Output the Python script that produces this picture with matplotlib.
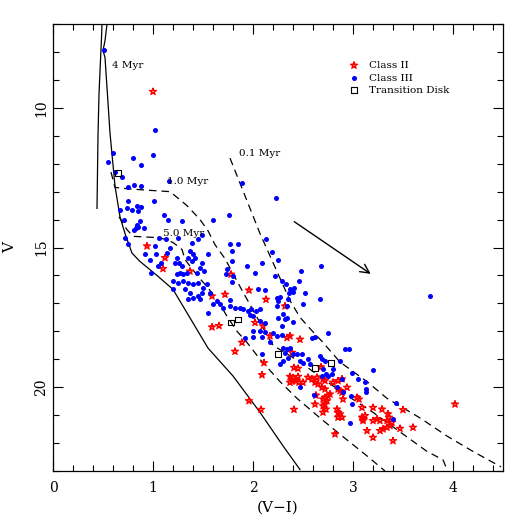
import numpy as np
import matplotlib
matplotlib.use("Agg")
import matplotlib.pyplot as plt
from matplotlib.path import Path
from matplotlib.ticker import MultipleLocator

# ---------------- data ----------------
class3_vi = [0.51,1.02,1.00,0.60,0.55,0.80,0.88,
             0.62,0.69,0.75,0.81,0.88,1.16,1.89,
             0.75,1.01,0.67,0.74,0.79,0.84,0.88,0.85,1.11,1.15,1.29,0.71,0.87,1.60,1.76,2.23,
             0.84,0.83,0.85,0.81,0.91,0.72,1.06,1.49,0.75,1.13,1.25,1.45,1.17,1.02,1.77,1.85,2.13,1.39,
             0.92,1.03,0.97,1.14,1.08,1.05,0.98,
             1.37,1.40,1.35,1.39,1.42,1.55,
             1.24,1.26,1.29,1.22,
             1.49,1.47,1.44,1.51,
             1.27,1.30,1.34,1.24,
             1.20,1.25,1.30,1.35,1.40,1.45,
             1.20,1.32,1.37,1.40,1.45,1.49,1.50,1.54,
             1.35,1.47,
             1.57,1.64,1.67,1.70,1.60,
             1.94,1.79,1.79,1.74,1.73,1.80,2.02,
             1.77,1.82,1.87,1.90,1.95,1.98,2.03,2.07,1.55,
             2.19,2.25,2.09,2.68,2.48,2.46,1.79,2.22,2.29,2.33,2.05,2.12,2.37,2.41,2.40,2.36,2.52,
             2.24,2.27,2.25,2.35,2.67,2.50,1.77,2.24,
             2.00,2.07,2.12,2.34,2.30,2.25,2.32,2.34,2.40,2.29,1.97,
             2.00,2.07,2.12,2.00,2.09,2.20,2.24,2.29,1.92,2.17,2.59,2.62,2.75,
             2.30,2.34,2.37,2.32,2.40,2.35,2.44,2.49,2.09,2.30,2.27,2.47,2.50,2.55,2.57,
             2.67,2.69,2.72,2.92,2.96,2.87,2.70,2.73,2.75,2.80,2.79,2.69,3.20,2.99,3.05,
             3.12,3.13,3.13,2.90,2.84,2.98,2.61,2.47,3.43,3.40,2.97,2.89,2.99,3.77]
class3_v = [7.93,10.78,11.68,11.60,11.93,11.80,12.04,
            12.30,12.48,12.83,12.77,12.80,12.62,12.69,
            13.35,13.32,13.64,13.58,13.64,13.50,13.55,13.70,13.85,14.00,14.05,14.00,14.06,14.02,13.82,13.23,
            14.21,14.30,14.26,14.39,14.31,14.65,14.65,14.54,14.87,14.71,14.65,14.68,15.00,14.95,14.86,14.87,14.71,14.83,
            15.25,15.25,15.43,15.19,15.55,15.67,15.90,
            15.13,15.25,15.37,15.49,15.37,15.25,
            15.37,15.55,15.67,15.55,
            15.55,15.73,15.90,15.85,
            15.90,15.96,15.90,15.96,
            16.20,16.26,16.20,16.26,16.32,16.26,
            16.50,16.50,16.62,16.80,16.74,16.62,16.44,16.32,
            16.86,16.86,
            16.62,16.92,17.04,17.15,17.04,
            15.67,15.13,15.49,15.76,15.96,16.02,15.90,
            17.10,17.15,17.15,17.20,17.27,17.20,17.27,17.20,17.33,
            15.15,15.43,15.57,15.67,15.84,16.20,16.24,16.02,16.20,16.30,16.48,16.53,16.50,16.44,16.60,16.62,16.62,
            16.80,16.78,16.92,16.86,16.86,17.04,16.88,17.10,
            17.45,17.63,17.69,17.10,17.39,17.51,17.57,17.51,17.67,17.81,17.40,
            17.99,17.99,18.02,18.19,18.19,18.05,18.17,18.14,18.23,18.40,18.23,18.19,18.05,
            18.58,18.64,18.58,18.76,18.82,18.94,18.82,18.82,18.82,19.06,19.18,19.06,19.12,19.00,19.18,
            18.88,19.00,19.06,18.64,18.64,19.06,19.36,19.54,19.60,19.36,19.54,19.60,19.38,19.48,19.71,
            19.83,20.07,20.19,20.19,20.01,20.33,20.29,20.01,20.57,21.14,21.29,19.69,20.61,16.74]

class2_vi = [1.00,0.94,1.12,1.10,1.37,1.78,1.96,1.59,1.72,2.13,2.32,1.59,1.66,2.02,2.10,2.17,1.89,1.82,
             2.34,2.37,2.47,2.39,2.11,2.09,1.96,2.08,2.41,
             2.41,2.45,2.37,2.40,2.39,2.43,2.45,2.37,2.46,2.50,2.55,2.59,2.64,2.62,2.65,2.70,2.72,2.69,
             2.72,2.80,2.85,2.89,2.87,2.89,2.94,2.63,2.62,2.72,2.70,2.74,2.75,2.77,2.72,2.70,2.73,2.70,
             2.82,2.84,2.85,2.87,2.89,2.85,3.04,3.06,3.09,3.20,3.29,3.35,3.36,3.34,3.09,3.10,3.10,3.20,
             3.24,3.27,3.39,3.37,3.34,3.30,3.27,3.14,3.20,3.40,3.47,3.50,3.60,4.02,2.90,3.12,2.85,2.68]
class2_v = [9.42,14.95,15.37,15.76,15.85,15.96,16.53,16.74,16.68,16.86,17.10,17.85,17.80,17.69,17.81,18.17,18.40,18.72,
            18.23,18.17,18.29,18.76,19.13,19.56,20.49,20.80,20.80,
            19.30,19.33,19.62,19.66,19.78,19.78,19.62,19.83,19.83,19.83,19.65,19.71,19.65,19.83,19.89,19.71,19.77,20.01,
            20.07,19.83,19.77,19.71,20.13,20.19,20.01,20.29,20.61,20.37,20.43,20.49,20.31,20.25,20.61,20.67,20.79,20.90,
            21.68,20.79,20.91,20.96,21.08,21.08,20.37,20.43,20.73,20.73,20.79,20.96,21.08,21.20,21.08,21.14,21.20,21.20,
            21.14,21.20,21.26,21.38,21.44,21.50,21.56,21.56,21.80,21.92,21.48,20.81,21.44,20.61,20.43,21.02,20.07,19.28]

td_vi = [0.65, 1.78, 1.85, 2.25, 2.62, 2.78]
td_v = [12.33, 17.69, 17.57, 18.82, 19.32, 19.13]

# isochrones
iso4_a_vi = [0.49, 0.485, 0.48, 0.46, 0.45, 0.44]
iso4_a_v = [7.0, 7.5, 7.9, 9.5, 11.0, 13.6]
iso4_b_vi = [0.54, 0.52, 0.50, 0.52, 0.57, 0.62, 0.67, 0.72, 0.79, 0.87, 1.04, 1.20, 1.30, 1.55, 1.80, 2.07, 2.30, 2.47]
iso4_b_v = [7.0, 7.6, 7.95, 8.2, 10.9, 12.8, 13.9, 14.5, 15.2, 15.5, 16.0, 16.5, 17.1, 18.6, 19.6, 20.9, 22.1, 22.95]

iso01_vi = [1.77, 1.87, 1.97, 2.07, 2.17, 2.27, 2.37, 2.47, 2.57, 2.70, 2.87, 3.14, 3.34, 3.67, 3.94, 4.20, 4.48]
iso01_v = [11.8, 12.7, 13.6, 14.5, 15.3, 16.1, 16.9, 17.5, 17.9, 18.4, 19.1, 19.8, 20.4, 21.1, 21.75, 22.3, 22.85]

iso10_vi = [0.58, 0.62, 0.75, 0.95, 1.17, 1.34, 1.47, 1.55, 1.62, 1.72, 1.87, 2.04, 2.20, 2.47, 2.70, 2.94, 3.20, 3.47, 3.74, 3.90, 3.94]
iso10_v = [12.3, 12.85, 12.9, 12.95, 13.0, 13.5, 14.0, 14.4, 14.9, 15.4, 16.4, 17.5, 18.5, 19.1, 19.7, 20.3, 20.9, 21.6, 22.3, 22.6, 22.95]

iso50_vi = [0.66, 0.74, 0.80, 1.07, 1.20, 1.29, 1.32, 1.45, 1.54, 1.64, 1.74, 1.84, 1.94, 2.07, 2.27, 2.44, 2.67, 2.84, 3.14, 3.32]
iso50_v = [13.9, 14.36, 14.6, 14.65, 14.82, 15.07, 15.43, 16.04, 16.4, 16.86, 17.46, 18.0, 18.4, 19.0, 19.8, 20.4, 21.1, 21.6, 22.46, 23.0]

iso_labels = ["4 Myr", "1.0 Myr", "5.0 Myr", "0.1 Myr"]
iso_label_vi = [0.59, 1.14, 1.10, 1.86]
iso_label_v = [8.5, 12.65, 14.49, 11.62]

arrow_start = (2.39, 14.02)
arrow_end = (3.20, 16.0)

# ---------------- plot ----------------
plt.rcParams['font.family'] = ['DejaVu Serif']
fig = plt.figure(figsize=(5.25, 5.25), dpi=100)
ax = fig.add_axes([53/525, 1-471/525, 450/525, 447/525])

dash = (0, (6, 4))
ax.plot(iso4_a_vi, iso4_a_v, color='black', lw=0.9)
ax.plot(iso4_b_vi, iso4_b_v, color='black', lw=0.9)
for xs, ys in [(iso01_vi, iso01_v), (iso10_vi, iso10_v), (iso50_vi, iso50_v)]:
    ax.plot(xs, ys, color='black', lw=0.9, linestyle=dash)

ang = np.deg2rad(90 + 144 * np.arange(6))
star = Path(np.column_stack([np.cos(ang), np.sin(ang)]), [Path.MOVETO] + [Path.LINETO] * 5)

ax.scatter(class2_vi, class2_v, marker=star, s=30, facecolors='none', edgecolors='red',
           linewidths=0.8, label='Class II', zorder=3)
ax.scatter(class3_vi, class3_v, marker='o', s=13, color='blue', linewidths=0,
           label='Class III', zorder=3)
ax.scatter(td_vi, td_v, marker='s', s=16, facecolors='none', edgecolors='black',
           linewidths=0.8, label='Transition Disk', zorder=4)

for t, x, y in zip(iso_labels, iso_label_vi, iso_label_v):
    ax.text(x, y, t, fontsize=7.5, ha='left', va='center')

ax.annotate('', xy=arrow_end, xytext=arrow_start,
            arrowprops=dict(arrowstyle='->', lw=1.0, color='black', mutation_scale=16))

ax.set_xlim(0, 4.5)
ax.set_ylim(23, 7)
ax.xaxis.set_major_locator(MultipleLocator(1))
ax.xaxis.set_minor_locator(MultipleLocator(0.2))
ax.yaxis.set_major_locator(MultipleLocator(5))
ax.yaxis.set_minor_locator(MultipleLocator(1))
ax.tick_params(which='both', direction='in', top=True, right=True, width=0.8)
ax.tick_params(which='major', length=7, labelsize=10)
ax.tick_params(which='minor', length=4)
ax.tick_params(axis='x', pad=7)
for lab in ax.get_yticklabels():
    lab.set_rotation(90)
    lab.set_va('center')
for sp in ax.spines.values():
    sp.set_linewidth(0.9)

ax.set_xlabel('(V\u2212I)', fontsize=11, labelpad=4)
ax.set_ylabel('V', fontsize=11, labelpad=12)

leg = ax.legend(loc='upper left', bbox_to_anchor=(0.648, 0.927), frameon=False,
                fontsize=7.5, handlelength=1.0, handletextpad=0.9, labelspacing=0.3,
                borderaxespad=0, scatterpoints=1)

fig.savefig('out.png', dpi=100)
